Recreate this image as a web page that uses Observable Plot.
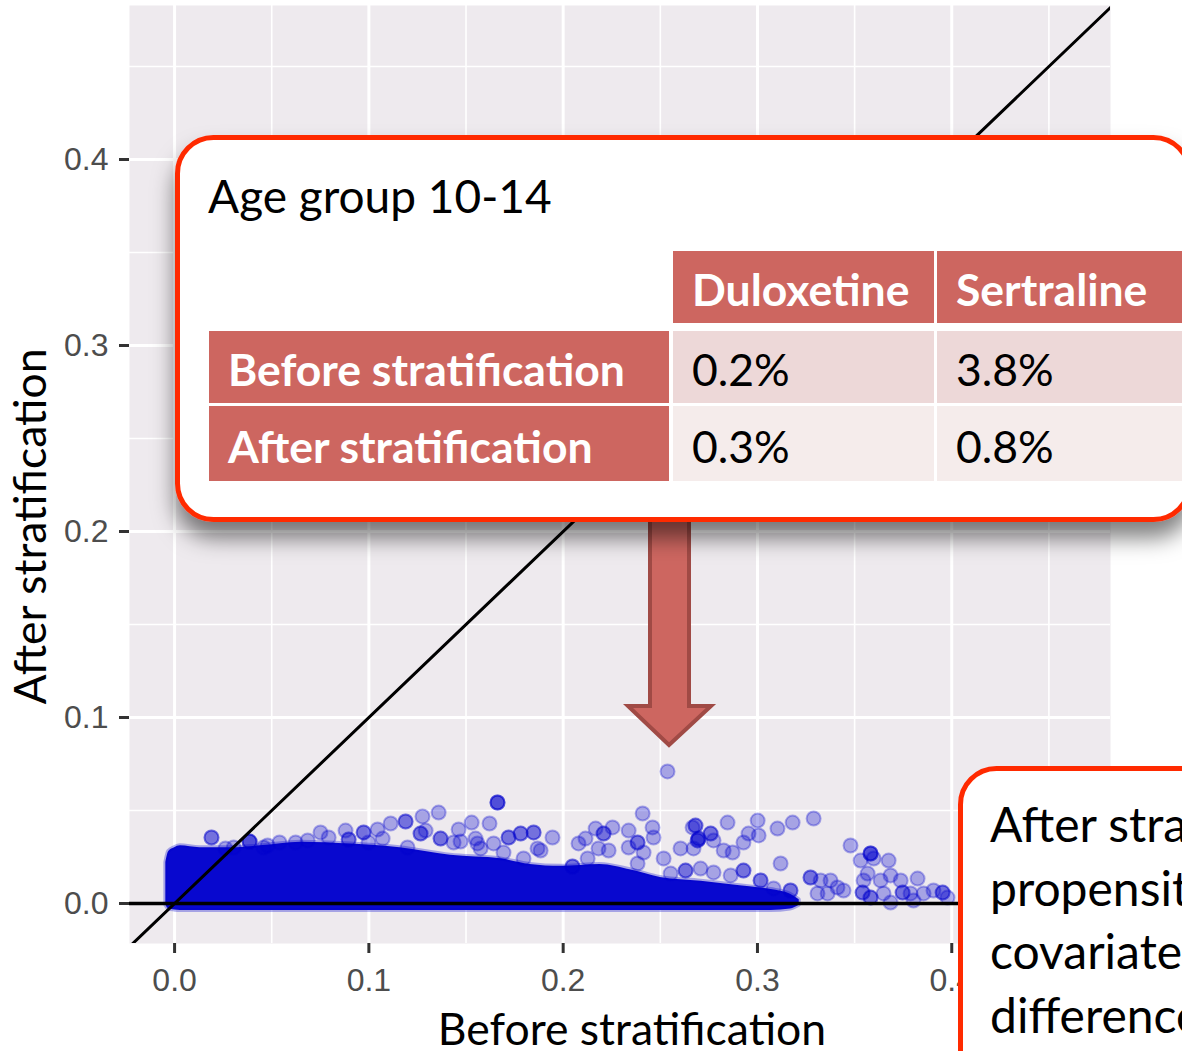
<!DOCTYPE html>
<html>
<head>
<meta charset="utf-8">
<script src="https://cdn.jsdelivr.net/npm/d3@7"></script>
<script src="https://cdn.jsdelivr.net/npm/@observablehq/plot@0.6"></script>
<style>
  html, body { margin: 0; padding: 0; background: #ffffff; overflow: hidden; }
  #page { position: relative; width: 1182px; height: 1051px; overflow: hidden; }
  #chart, #notes { position: absolute; left: 0; top: 0; }
</style>
</head>
<body>
<div id="page">
  <div id="chart"></div>
  <svg id="notes" width="1182" height="1051"></svg>
</div>
<script>
// Axis ticks
const xTicks = [0, 0.1, 0.2, 0.3, 0.4];
const yTicks = [0, 0.1, 0.2, 0.3, 0.4];
const xMinor = [0.05, 0.15, 0.25, 0.35, 0.45];
const yMinor = [0.05, 0.15, 0.25, 0.35, 0.45];
const xDomain = [-0.0232, 0.4817];
const yDomain = [-0.0215, 0.4828];
const identityEnds = [-0.05, 0.5];

// Dense core of covariates (standardised differences): envelope of the overlapping points
const denseBefore = [-0.0045, -0.003, 0.0, 0.003, 0.013, 0.029, 0.044, 0.065, 0.091, 0.116, 0.142, 0.168,
                     0.183, 0.199, 0.219, 0.235, 0.250, 0.271, 0.291, 0.307, 0.317, 0.3215];
const denseUpper  = [0.022, 0.028, 0.030, 0.031, 0.030, 0.030, 0.031, 0.033, 0.032, 0.030, 0.026, 0.024,
                     0.021, 0.020, 0.021, 0.018, 0.014, 0.012, 0.0095, 0.0075, 0.005, 0.002];
const denseLower  = [-0.001, -0.003, -0.0035, -0.0038, -0.0038, -0.0038, -0.0038, -0.0038, -0.0038, -0.0038, -0.0038, -0.0038,
                     -0.0038, -0.0038, -0.0038, -0.0038, -0.0038, -0.0038, -0.0038, -0.0038, -0.003, -0.001];

// Individual covariates outside the dense core (before, after, number of overlapping covariates)
const pointBefore = [
  0.019, 0.0386, 0.0304, 0.0458, 0.054, 0.0623, 0.0751, 0.088, 0.0896, 0.0973,
  0.1045, 0.1112, 0.1189, 0.1276, 0.1359, 0.1292, 0.1369, 0.1462, 0.1529, 0.1621,
  0.1662, 0.1719, 0.1781, 0.1848, 0.1945, 0.1884, 0.1472, 0.1559, 0.2048, 0.2079,
  0.2115, 0.2167, 0.2208, 0.2254, 0.2182, 0.2234, 0.2337, 0.2337, 0.2383, 0.2409,
  0.246, 0.2465, 0.2414, 0.2517, 0.2604, 0.263, 0.2681, 0.2671, 0.2697, 0.2383,
  0.2126, 0.2553, 0.2537, 0.2666, 0.2759, 0.2774, 0.2692, 0.2846, 0.2826, 0.2872,
  0.2928, 0.2954, 0.3001, 0.3006, 0.3103, 0.3181, 0.3289, 0.3119, 0.2707, 0.2774,
  0.2862, 0.2928, 0.3016, 0.3083, 0.317, 0.3273, 0.3325, 0.3376, 0.3412, 0.3309,
  0.3361, 0.3443, 0.3479, 0.3531, 0.3582, 0.3598, 0.3675, 0.3567, 0.3546, 0.3634,
  0.3685, 0.3541, 0.3582, 0.3649, 0.3737, 0.3747, 0.3824, 0.3855, 0.3906, 0.3953,
  0.3978, 0.3803, 0.3685, 0.3788, 0.0262, 0.0479, 0.0685, 0.0793, 0.0998, 0.1071,
  0.1199, 0.1266, 0.1436, 0.1549, 0.1575, 0.1642, 0.1796, 0.1693, 0.1868
];
const pointAfter = [
  0.0355, 0.0333, 0.0301, 0.0301, 0.0328, 0.0328, 0.0382, 0.0392, 0.0344, 0.0382,
  0.0398, 0.043, 0.0441, 0.0468, 0.0489, 0.0392, 0.0349, 0.0398, 0.0435, 0.043,
  0.0543, 0.0355, 0.0376, 0.0382, 0.0355, 0.0285, 0.0333, 0.0323, 0.0199, 0.0323,
  0.0349, 0.0403, 0.0376, 0.0409, 0.0296, 0.0285, 0.0392, 0.0301, 0.0328, 0.0484,
  0.0409, 0.0355, 0.0274, 0.0242, 0.0296, 0.0177, 0.0419, 0.0296, 0.0349, 0.0215,
  0.0242, 0.0161, 0.071, 0.0409, 0.0376, 0.0339, 0.0339, 0.0435, 0.0285, 0.0274,
  0.0328, 0.0376, 0.0446, 0.0366, 0.0403, 0.0435, 0.0457, 0.0215, 0.0188, 0.0167,
  0.0151, 0.0177, 0.0124, 0.0081, 0.007, 0.014, 0.0124, 0.0124, 0.0086, 0.0054,
  0.0054, 0.007, 0.0312, 0.0231, 0.0269, 0.0242, 0.0231, 0.0161, 0.0124, 0.0124,
  0.0151, 0.0059, 0.0032, 0.0054, 0.0124, 0.0059, 0.0134, 0.0054, 0.007, 0.0059,
  0.0032, 0.0016, 0.0005, 0.0054, 0.0296, 0.0312, 0.0339, 0.0355, 0.0328, 0.0349,
  0.0301, 0.0376, 0.0328, 0.0349, 0.0296, 0.0323, 0.0242, 0.0274, 0.0296
];
const pointCount = [
  2, 3, 1, 1, 1, 1, 1, 1, 2, 2,
  1, 1, 2, 1, 1, 1, 2, 1, 1, 1,
  3, 2, 2, 2, 1, 1, 1, 1, 2, 1,
  1, 1, 2, 1, 1, 1, 1, 1, 2, 1,
  1, 1, 1, 1, 1, 2, 2, 1, 2, 1,
  1, 1, 1, 1, 2, 1, 2, 1, 1, 1,
  1, 1, 1, 1, 1, 1, 1, 1, 1, 1,
  1, 2, 2, 1, 2, 2, 1, 1, 1, 1,
  1, 1, 1, 1, 3, 1, 1, 1, 1, 1,
  1, 2, 2, 1, 1, 2, 1, 1, 1, 2,
  1, 1, 1, 1, 1, 1, 1, 1, 1, 1,
  1, 2, 1, 1, 1, 1, 1, 1, 1
];

// Balance table
const tableTitle = "Age group 10-14";
const tableColumns = ["Duloxetine", "Sertraline"];
const tableRows = ["Before stratification", "After stratification"];
const tableValues = [["0.2%", "3.8%"], ["0.3%", "0.8%"]];
const noteLines = ["After stratification", "propensity score", "covariate", "differences"];

const xTitle = "Before stratification";
const yTitle = "After stratification";

// Build tables for the marks
const dense = denseBefore.map((x, i) => ({x, lo: denseLower[i], hi: denseUpper[i]}));
const points = pointBefore.flatMap((x, i) =>
  d3.range(pointCount[i] || 1).map(() => ({x, y: pointAfter[i]})));

const blue = "#0000CD";
const titleFont = "Lato, 'Open Sans', sans-serif";
const plot = Plot.plot({
  width: 1182,
  height: 1051,
  marginLeft: 129,
  marginRight: 72,
  marginTop: 5,
  marginBottom: 108,
  x: {domain: xDomain},
  y: {domain: yDomain},
  style: {background: "transparent", fontFamily: "'Liberation Sans', Arial, sans-serif", overflow: "visible"},
  marks: [
    Plot.frame({fill: "#EEEAEE", stroke: "none"}),
    Plot.gridX(xMinor, {stroke: "#ffffff", strokeOpacity: 1, strokeWidth: 1.6}),
    Plot.gridY(yMinor, {stroke: "#ffffff", strokeOpacity: 1, strokeWidth: 1.6}),
    Plot.gridX(xTicks, {stroke: "#ffffff", strokeOpacity: 1, strokeWidth: 3}),
    Plot.gridY(yTicks, {stroke: "#ffffff", strokeOpacity: 1, strokeWidth: 3}),
    Plot.areaY(dense, {x: "x", y1: "lo", y2: "hi", fill: blue, fillOpacity: 0.97,
      stroke: blue, strokeOpacity: 0.3, strokeWidth: 4, curve: "monotone-x"}),
    Plot.dot(points, {x: "x", y: "y", r: 7, fill: blue, fillOpacity: 0.3,
      stroke: blue, strokeOpacity: 0.3, strokeWidth: 2}),
    Plot.line(identityEnds, {x: d => d, y: d => d, stroke: "#000", strokeWidth: 3, clip: true}),
    Plot.ruleY([0], {stroke: "#000", strokeWidth: 3.5}),
    Plot.axisX(xTicks, {tickSize: 10, tickPadding: 15, fontSize: 32, tickFormat: d3.format(".1f"),
      stroke: "#333333", strokeWidth: 3, fill: "#4D4D4D", label: null}),
    Plot.axisY(yTicks, {tickSize: 10, tickPadding: 11, fontSize: 32, tickFormat: d3.format(".1f"),
      stroke: "#333333", strokeWidth: 3, fill: "#4D4D4D", label: null}),
    Plot.text([xTitle], {frameAnchor: "bottom", textAnchor: "middle", lineAnchor: "middle",
      dx: 12, dy: 87, fontSize: 44.5, fontFamily: titleFont, fill: "#000"}),
    Plot.text([yTitle], {frameAnchor: "left", textAnchor: "middle", lineAnchor: "middle", rotate: -90,
      dx: -98, dy: 52, fontSize: 44.5, fontFamily: titleFont, fill: "#000"})
  ]
});
document.getElementById("chart").appendChild(plot);

// Annotations drawn over the chart
const notes = d3.select("#notes");
const font = titleFont;
const red = "#FF2A00";
const cellRed = "#CD6660";

const defs = notes.append("defs");
const f = defs.append("filter").attr("id", "drop").attr("x", "-5%").attr("y", "-10%")
  .attr("width", "110%").attr("height", "135%");
f.append("feDropShadow").attr("dx", 0).attr("dy", 16).attr("stdDeviation", 11)
  .attr("flood-color", "#000").attr("flood-opacity", 0.5);

// Arrow from the table down to the points
notes.append("polygon")
  .attr("points", "650,515 689,515 689,706 711,706 669,745 628,706 650,706")
  .attr("fill", cellRed).attr("stroke", "#A04A45").attr("stroke-width", 4)
  .attr("stroke-linejoin", "miter");

// Table callout
notes.append("rect")
  .attr("x", 177.5).attr("y", 137.5).attr("width", 1012).attr("height", 382).attr("rx", 36)
  .attr("fill", "#fff").attr("stroke", red).attr("stroke-width", 5).attr("filter", "url(#drop)");

notes.append("text").attr("x", 208).attr("y", 213).attr("font-family", font)
  .attr("font-size", 46).attr("fill", "#000").text(tableTitle);

const colX = [673, 937], colW = [261, 245];
const rowY = [331, 406], rowH = [72, 75];
const headerY = 251, headerH = 72;
const labelX = 209, labelW = 460;
const valueFill = ["#EDD8D8", "#F5ECEB"];
const cellFont = 44.5;

tableColumns.forEach((c, j) => {
  notes.append("rect").attr("x", colX[j]).attr("y", headerY).attr("width", colW[j]).attr("height", headerH)
    .attr("fill", cellRed);
  notes.append("text").attr("x", colX[j] + 19).attr("y", headerY + headerH / 2 + 19)
    .attr("font-family", font).attr("font-weight", 700).attr("font-size", cellFont).attr("fill", "#fff").text(c);
});
tableRows.forEach((r, i) => {
  notes.append("rect").attr("x", labelX).attr("y", rowY[i]).attr("width", labelW).attr("height", rowH[i])
    .attr("fill", cellRed);
  notes.append("text").attr("x", labelX + 19).attr("y", rowY[i] + rowH[i] / 2 + 19)
    .attr("font-family", font).attr("font-weight", 700).attr("font-size", cellFont).attr("fill", "#fff").text(r);
  tableValues[i].forEach((v, j) => {
    notes.append("rect").attr("x", colX[j]).attr("y", rowY[i]).attr("width", colW[j]).attr("height", rowH[i])
      .attr("fill", valueFill[i]);
    notes.append("text").attr("x", colX[j] + 19).attr("y", rowY[i] + rowH[i] / 2 + 19)
      .attr("font-family", font).attr("font-size", cellFont).attr("fill", "#000").text(v);
  });
});

// Lower-right note
notes.append("rect")
  .attr("x", 960.5).attr("y", 768.5).attr("width", 420).attr("height", 400).attr("rx", 36)
  .attr("fill", "#fff").attr("stroke", red).attr("stroke-width", 5);
noteLines.forEach((t, i) => {
  notes.append("text").attr("x", 990).attr("y", 842 + i * 63.5).attr("font-family", font)
    .attr("font-size", 48).attr("fill", "#000").text(t);
});
</script>
</body>
</html>
